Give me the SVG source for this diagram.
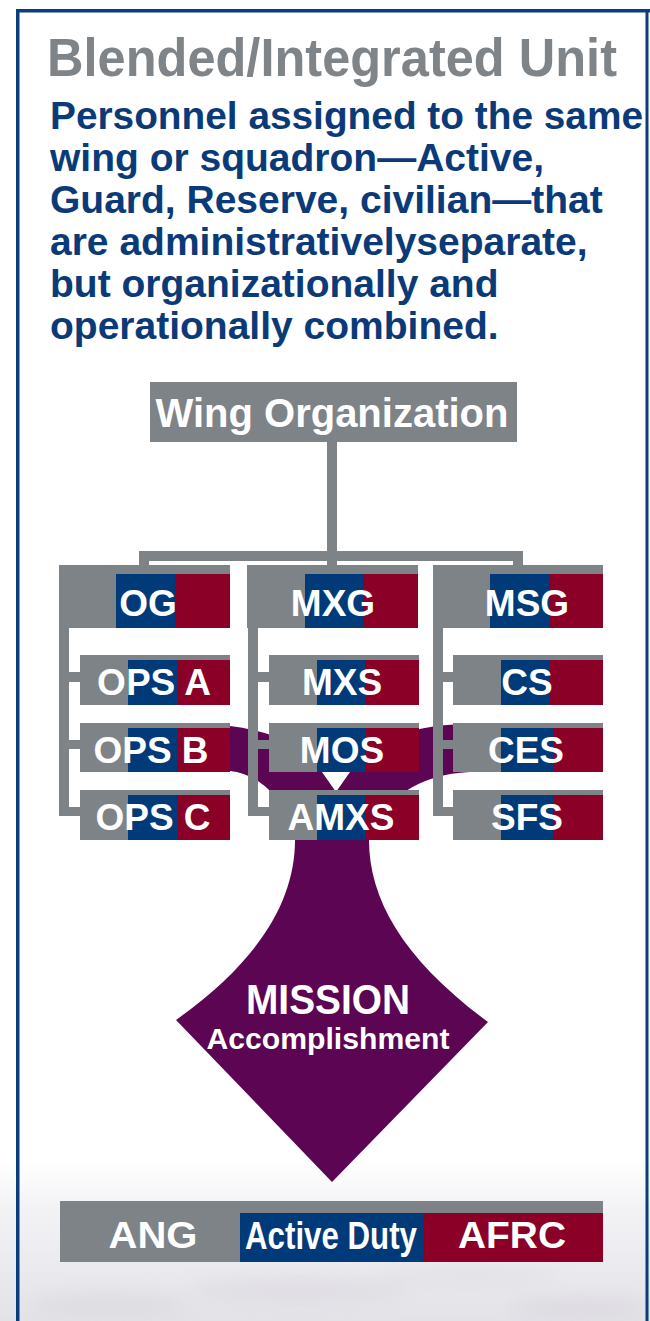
<svg xmlns="http://www.w3.org/2000/svg" width="650" height="1321" viewBox="0 0 650 1321">
<defs>
<style>
.g{fill:#7e8388}
.b{fill:#003a78}
.r{fill:#8a0027}
.lbl{font-family:"Liberation Sans",Arial,sans-serif;font-weight:bold;fill:#ffffff;text-anchor:middle}
.box{font-size:37px}
.para{font-family:"Liberation Sans",Arial,sans-serif;font-weight:bold;fill:#0b3a78;font-size:39px}
</style>
<linearGradient id="sky" x1="0" y1="0" x2="0" y2="1">
<stop offset="0" stop-color="#ffffff"/>
<stop offset="0.3" stop-color="#f3f2f5"/>
<stop offset="1" stop-color="#e3e2e7"/>
</linearGradient>
<filter id="blur" x="-50%" y="-50%" width="200%" height="200%"><feGaussianBlur stdDeviation="9"/></filter>
</defs>
<rect x="0" y="0" width="650" height="1321" fill="#ffffff"/>
<rect x="0" y="1160" width="650" height="161" fill="url(#sky)"/>
<g filter="url(#blur)" opacity="0.45">
<ellipse cx="110" cy="1305" rx="80" ry="10" fill="#d2d0d7"/>
<ellipse cx="300" cy="1290" rx="110" ry="12" fill="#d6d4dc"/>
<ellipse cx="470" cy="1275" rx="90" ry="9" fill="#dad8df"/>
<ellipse cx="580" cy="1308" rx="70" ry="9" fill="#d0ced5"/>
</g>
<g id="frame" fill="#0a3d7c">
<rect x="16" y="9" width="634" height="3.5"/>
<rect x="16" y="9" width="3.5" height="1312"/>
<rect x="645.5" y="9" width="3" height="1312"/>
</g>
<g id="title">
<text x="47" y="76" font-family="'Liberation Sans',Arial,sans-serif" font-weight="bold" font-size="53" fill="#7f8489" textLength="570" lengthAdjust="spacingAndGlyphs">Blended/Integrated Unit</text>
</g>
<g id="description" class="para">
<text x="50" y="129" textLength="593" lengthAdjust="spacingAndGlyphs">Personnel assigned to the same</text>
<text x="50" y="171">wing or squadron—Active,</text>
<text x="50" y="213">Guard, Reserve, civilian—that</text>
<text x="50" y="255">are administrativelyseparate,</text>
<text x="50" y="297">but organizationally and</text>
<text x="50" y="339">operationally combined.</text>
</g>
<g id="mission-flow">
<path fill="#5b0553" d="M200,724 C250,724 305,740 322,772 L336,792 L350,772 C368,742 410,724 470,724 L470,772 C420,774 380,800 369,840 C369,900 404,960 488,1022 L332,1182 L176,1020 C260,960 295,900 295,840 C290,805 262,774 230,771 L200,771 Z"/>
</g>
<g id="connectors" class="g">
<rect x="327" y="442" width="10" height="123"/>
<rect x="139" y="551" width="384" height="10"/>
<rect x="139" y="551" width="10" height="14"/>
<rect x="513" y="551" width="10" height="14"/>
<rect x="59" y="628" width="10" height="188"/>
<rect x="69" y="672" width="11" height="10"/>
<rect x="69" y="740" width="11" height="9"/>
<rect x="59" y="807" width="21" height="9"/>
<rect x="248" y="628" width="10" height="188"/>
<rect x="258" y="672" width="11" height="10"/>
<rect x="258" y="740" width="11" height="9"/>
<rect x="248" y="807" width="21" height="9"/>
<rect x="433" y="628" width="10" height="188"/>
<rect x="443" y="672" width="10" height="10"/>
<rect x="443" y="740" width="10" height="9"/>
<rect x="433" y="807" width="20" height="9"/>
</g>
<g id="wing">
<rect class="g" x="150" y="382" width="367" height="60"/>
<text class="lbl" x="332" y="427" font-size="40">Wing Organization</text>
</g>
<g id="og">
<rect class="g" x="59" y="565" width="171" height="63"/>
<rect class="b" x="116" y="574" width="59" height="54"/>
<rect class="r" x="175" y="574" width="55" height="54"/>
<text class="lbl box" x="148" y="616">OG</text>
</g>
<g id="mxg">
<rect class="g" x="247" y="565" width="171" height="63"/>
<rect class="b" x="305" y="574" width="58" height="54"/>
<rect class="r" x="363" y="574" width="55" height="54"/>
<text class="lbl box" x="333" y="616">MXG</text>
</g>
<g id="msg">
<rect class="g" x="433" y="565" width="170" height="63"/>
<rect class="b" x="490" y="574" width="59" height="54"/>
<rect class="r" x="549" y="574" width="54" height="54"/>
<text class="lbl box" x="527" y="616">MSG</text>
</g>
<g id="ops-a">
<rect class="g" x="80" y="655" width="150" height="50"/>
<rect class="b" x="128" y="660" width="49" height="45"/>
<rect class="r" x="177" y="660" width="53" height="45"/>
<text class="lbl box" x="154" y="695">OPS A</text>
</g>
<g id="ops-b">
<rect class="g" x="80" y="723" width="150" height="49"/>
<rect class="b" x="128" y="728" width="49" height="44"/>
<rect class="r" x="177" y="728" width="53" height="44"/>
<text class="lbl box" x="151" y="763">OPS B</text>
</g>
<g id="ops-c">
<rect class="g" x="80" y="790" width="150" height="50"/>
<rect class="b" x="128" y="795" width="49" height="45"/>
<rect class="r" x="177" y="795" width="53" height="45"/>
<text class="lbl box" x="153" y="830">OPS C</text>
</g>
<g id="mxs">
<rect class="g" x="269" y="655" width="150" height="50"/>
<rect class="b" x="317" y="660" width="48" height="45"/>
<rect class="r" x="365" y="660" width="54" height="45"/>
<text class="lbl box" x="342" y="695">MXS</text>
</g>
<g id="mos">
<rect class="g" x="269" y="723" width="150" height="49"/>
<rect class="b" x="317" y="728" width="48" height="44"/>
<rect class="r" x="365" y="728" width="54" height="44"/>
<text class="lbl box" x="342" y="763">MOS</text>
</g>
<g id="amxs">
<rect class="g" x="269" y="790" width="150" height="50"/>
<rect class="b" x="317" y="795" width="48" height="45"/>
<rect class="r" x="365" y="795" width="54" height="45"/>
<text class="lbl box" x="341" y="830">AMXS</text>
</g>
<g id="cs">
<rect class="g" x="453" y="655" width="150" height="50"/>
<rect class="b" x="501" y="660" width="49" height="45"/>
<rect class="r" x="550" y="660" width="53" height="45"/>
<text class="lbl box" x="527" y="695">CS</text>
</g>
<g id="ces">
<rect class="g" x="453" y="723" width="150" height="49"/>
<rect class="b" x="501" y="728" width="52" height="44"/>
<rect class="r" x="553" y="728" width="50" height="44"/>
<text class="lbl box" x="526" y="763">CES</text>
</g>
<g id="sfs">
<rect class="g" x="453" y="790" width="150" height="50"/>
<rect class="b" x="501" y="795" width="52" height="45"/>
<rect class="r" x="553" y="795" width="50" height="45"/>
<text class="lbl box" x="527" y="830">SFS</text>
</g>
<g id="mission">
<text class="lbl" x="328" y="1014" font-size="42" textLength="164" lengthAdjust="spacingAndGlyphs">MISSION</text>
<text class="lbl" x="328" y="1049" font-size="29" textLength="243" lengthAdjust="spacingAndGlyphs">Accomplishment</text>
</g>
<g id="legend">
<rect class="g" x="60" y="1201" width="543" height="61"/>
<rect class="b" x="240" y="1213" width="184" height="49"/>
<rect class="r" x="424" y="1213" width="179" height="49"/>
<text class="lbl" x="153" y="1248" font-size="36" textLength="89" lengthAdjust="spacingAndGlyphs">ANG</text>
<text class="lbl" x="331" y="1249" font-size="38" textLength="172" lengthAdjust="spacingAndGlyphs">Active Duty</text>
<text class="lbl" x="512" y="1248" font-size="36" textLength="108" lengthAdjust="spacingAndGlyphs">AFRC</text>
</g>
</svg>
